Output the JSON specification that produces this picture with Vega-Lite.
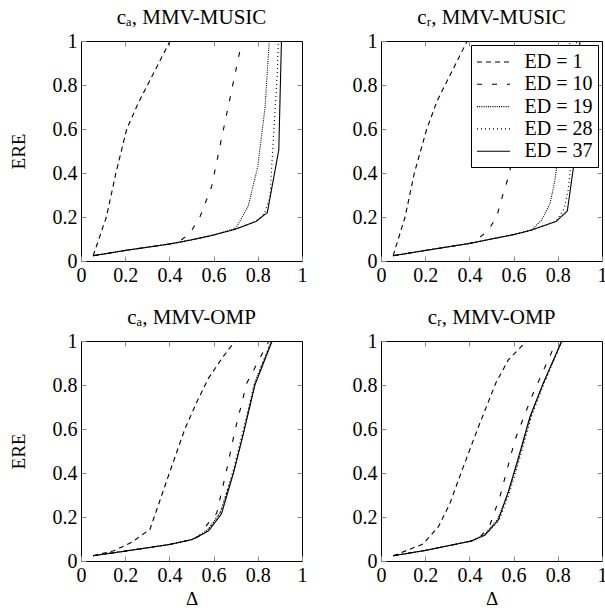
{
  "$schema": "https://vega.github.io/schema/vega-lite/v6.json",
  "padding": {"left": 8, "top": 6, "right": 0, "bottom": 0},
  "background": "white",
  "config": {
    "view": {"stroke": "black", "strokeWidth": 1},
    "axis": {"tickSize": -5, "labelPadding": 9, "domain": false, "grid": false, "ticks": true, "tickColor": "#888", "tickWidth": 1,
             "labelFont": "Liberation Serif", "labelFontSize": 20, "labelColor": "black", "labelFlush": false, "labelOverlap": false,
             "titleFont": "Liberation Serif", "titleFontSize": 19, "titleFontWeight": "normal", "titleColor": "black"},
    "title": {"font": "Liberation Serif", "fontSize": 21, "fontWeight": "normal", "color": "black", "offset": 3, "baseline": "alphabetic", "anchor": "middle"}
  },
  "data": {"values": [
    {"p":"A","ed":"ED = 1","x":0.055,"y":0.024},{"p":"A","ed":"ED = 1","x":0.115,"y":0.2},{"p":"A","ed":"ED = 1","x":0.158,"y":0.4},{"p":"A","ed":"ED = 1","x":0.207,"y":0.6},{"p":"A","ed":"ED = 1","x":0.26,"y":0.72},{"p":"A","ed":"ED = 1","x":0.403,"y":1.0},
    {"p":"A","ed":"ED = 10","x":0.055,"y":0.024},{"p":"A","ed":"ED = 10","x":0.2,"y":0.048},{"p":"A","ed":"ED = 10","x":0.4,"y":0.077},{"p":"A","ed":"ED = 10","x":0.44,"y":0.085},{"p":"A","ed":"ED = 10","x":0.493,"y":0.126},{"p":"A","ed":"ED = 10","x":0.538,"y":0.2},{"p":"A","ed":"ED = 10","x":0.591,"y":0.338},{"p":"A","ed":"ED = 10","x":0.636,"y":0.557},{"p":"A","ed":"ED = 10","x":0.682,"y":0.777},{"p":"A","ed":"ED = 10","x":0.72,"y":0.96},
    {"p":"A","ed":"ED = 19","x":0.055,"y":0.024},{"p":"A","ed":"ED = 19","x":0.2,"y":0.048},{"p":"A","ed":"ED = 19","x":0.4,"y":0.077},{"p":"A","ed":"ED = 19","x":0.5,"y":0.096},{"p":"A","ed":"ED = 19","x":0.6,"y":0.118},{"p":"A","ed":"ED = 19","x":0.7,"y":0.148},{"p":"A","ed":"ED = 19","x":0.757,"y":0.25},{"p":"A","ed":"ED = 19","x":0.8,"y":0.43},{"p":"A","ed":"ED = 19","x":0.833,"y":0.7},{"p":"A","ed":"ED = 19","x":0.852,"y":1.0},
    {"p":"A","ed":"ED = 28","x":0.055,"y":0.024},{"p":"A","ed":"ED = 28","x":0.2,"y":0.048},{"p":"A","ed":"ED = 28","x":0.4,"y":0.077},{"p":"A","ed":"ED = 28","x":0.5,"y":0.096},{"p":"A","ed":"ED = 28","x":0.6,"y":0.118},{"p":"A","ed":"ED = 28","x":0.7,"y":0.145},{"p":"A","ed":"ED = 28","x":0.79,"y":0.18},{"p":"A","ed":"ED = 28","x":0.83,"y":0.215},{"p":"A","ed":"ED = 28","x":0.855,"y":0.29},{"p":"A","ed":"ED = 28","x":0.87,"y":0.55},{"p":"A","ed":"ED = 28","x":0.888,"y":0.85},{"p":"A","ed":"ED = 28","x":0.893,"y":1.0},
    {"p":"A","ed":"ED = 37","x":0.055,"y":0.024},{"p":"A","ed":"ED = 37","x":0.2,"y":0.048},{"p":"A","ed":"ED = 37","x":0.4,"y":0.077},{"p":"A","ed":"ED = 37","x":0.5,"y":0.096},{"p":"A","ed":"ED = 37","x":0.6,"y":0.118},{"p":"A","ed":"ED = 37","x":0.7,"y":0.145},{"p":"A","ed":"ED = 37","x":0.792,"y":0.18},{"p":"A","ed":"ED = 37","x":0.843,"y":0.22},{"p":"A","ed":"ED = 37","x":0.895,"y":0.505},{"p":"A","ed":"ED = 37","x":0.907,"y":1.0},

    {"p":"B","ed":"ED = 1","x":0.055,"y":0.024},{"p":"B","ed":"ED = 1","x":0.109,"y":0.2},{"p":"B","ed":"ED = 1","x":0.151,"y":0.4},{"p":"B","ed":"ED = 1","x":0.207,"y":0.6},{"p":"B","ed":"ED = 1","x":0.255,"y":0.73},{"p":"B","ed":"ED = 1","x":0.39,"y":1.0},
    {"p":"B","ed":"ED = 10","x":0.055,"y":0.024},{"p":"B","ed":"ED = 10","x":0.2,"y":0.048},{"p":"B","ed":"ED = 10","x":0.4,"y":0.08},{"p":"B","ed":"ED = 10","x":0.425,"y":0.088},{"p":"B","ed":"ED = 10","x":0.486,"y":0.141},{"p":"B","ed":"ED = 10","x":0.523,"y":0.2},{"p":"B","ed":"ED = 10","x":0.553,"y":0.307},{"p":"B","ed":"ED = 10","x":0.576,"y":0.38},{"p":"B","ed":"ED = 10","x":0.62,"y":0.58},{"p":"B","ed":"ED = 10","x":0.66,"y":0.78},{"p":"B","ed":"ED = 10","x":0.7,"y":0.96},
    {"p":"B","ed":"ED = 19","x":0.055,"y":0.024},{"p":"B","ed":"ED = 19","x":0.2,"y":0.048},{"p":"B","ed":"ED = 19","x":0.4,"y":0.08},{"p":"B","ed":"ED = 19","x":0.5,"y":0.1},{"p":"B","ed":"ED = 19","x":0.6,"y":0.12},{"p":"B","ed":"ED = 19","x":0.682,"y":0.141},{"p":"B","ed":"ED = 19","x":0.727,"y":0.186},{"p":"B","ed":"ED = 19","x":0.765,"y":0.262},{"p":"B","ed":"ED = 19","x":0.787,"y":0.368},{"p":"B","ed":"ED = 19","x":0.81,"y":0.55},{"p":"B","ed":"ED = 19","x":0.835,"y":0.8},{"p":"B","ed":"ED = 19","x":0.855,"y":1.0},
    {"p":"B","ed":"ED = 28","x":0.055,"y":0.024},{"p":"B","ed":"ED = 28","x":0.2,"y":0.048},{"p":"B","ed":"ED = 28","x":0.4,"y":0.08},{"p":"B","ed":"ED = 28","x":0.5,"y":0.1},{"p":"B","ed":"ED = 28","x":0.6,"y":0.12},{"p":"B","ed":"ED = 28","x":0.682,"y":0.141},{"p":"B","ed":"ED = 28","x":0.792,"y":0.18},{"p":"B","ed":"ED = 28","x":0.83,"y":0.24},{"p":"B","ed":"ED = 28","x":0.848,"y":0.33},{"p":"B","ed":"ED = 28","x":0.857,"y":0.42},{"p":"B","ed":"ED = 28","x":0.87,"y":0.6},{"p":"B","ed":"ED = 28","x":0.885,"y":1.0},
    {"p":"B","ed":"ED = 37","x":0.055,"y":0.024},{"p":"B","ed":"ED = 37","x":0.2,"y":0.048},{"p":"B","ed":"ED = 37","x":0.403,"y":0.08},{"p":"B","ed":"ED = 37","x":0.5,"y":0.1},{"p":"B","ed":"ED = 37","x":0.6,"y":0.12},{"p":"B","ed":"ED = 37","x":0.682,"y":0.141},{"p":"B","ed":"ED = 37","x":0.792,"y":0.18},{"p":"B","ed":"ED = 37","x":0.843,"y":0.227},{"p":"B","ed":"ED = 37","x":0.87,"y":0.42},{"p":"B","ed":"ED = 37","x":0.88,"y":0.6},{"p":"B","ed":"ED = 37","x":0.9,"y":1.0},

    {"p":"C","ed":"ED = 1","x":0.055,"y":0.024},{"p":"C","ed":"ED = 1","x":0.15,"y":0.047},{"p":"C","ed":"ED = 1","x":0.23,"y":0.085},{"p":"C","ed":"ED = 1","x":0.312,"y":0.144},{"p":"C","ed":"ED = 1","x":0.4,"y":0.4},{"p":"C","ed":"ED = 1","x":0.47,"y":0.6},{"p":"C","ed":"ED = 1","x":0.523,"y":0.72},{"p":"C","ed":"ED = 1","x":0.576,"y":0.83},{"p":"C","ed":"ED = 1","x":0.644,"y":0.93},{"p":"C","ed":"ED = 1","x":0.697,"y":1.0},
    {"p":"C","ed":"ED = 10","x":0.055,"y":0.024},{"p":"C","ed":"ED = 10","x":0.2,"y":0.045},{"p":"C","ed":"ED = 10","x":0.4,"y":0.075},{"p":"C","ed":"ED = 10","x":0.5,"y":0.097},{"p":"C","ed":"ED = 10","x":0.535,"y":0.115},{"p":"C","ed":"ED = 10","x":0.57,"y":0.164},{"p":"C","ed":"ED = 10","x":0.614,"y":0.217},{"p":"C","ed":"ED = 10","x":0.659,"y":0.414},{"p":"C","ed":"ED = 10","x":0.697,"y":0.595},{"p":"C","ed":"ED = 10","x":0.75,"y":0.808},{"p":"C","ed":"ED = 10","x":0.833,"y":0.967},{"p":"C","ed":"ED = 10","x":0.85,"y":1.0},
    {"p":"C","ed":"ED = 19","x":0.055,"y":0.024},{"p":"C","ed":"ED = 19","x":0.2,"y":0.045},{"p":"C","ed":"ED = 19","x":0.4,"y":0.075},{"p":"C","ed":"ED = 19","x":0.5,"y":0.097},{"p":"C","ed":"ED = 19","x":0.525,"y":0.109},{"p":"C","ed":"ED = 19","x":0.573,"y":0.142},{"p":"C","ed":"ED = 19","x":0.63,"y":0.22},{"p":"C","ed":"ED = 19","x":0.692,"y":0.41},{"p":"C","ed":"ED = 19","x":0.737,"y":0.59},{"p":"C","ed":"ED = 19","x":0.787,"y":0.81},{"p":"C","ed":"ED = 19","x":0.862,"y":1.0},
    {"p":"C","ed":"ED = 28","x":0.055,"y":0.024},{"p":"C","ed":"ED = 28","x":0.2,"y":0.045},{"p":"C","ed":"ED = 28","x":0.4,"y":0.075},{"p":"C","ed":"ED = 28","x":0.5,"y":0.097},{"p":"C","ed":"ED = 28","x":0.525,"y":0.108},{"p":"C","ed":"ED = 28","x":0.575,"y":0.14},{"p":"C","ed":"ED = 28","x":0.632,"y":0.22},{"p":"C","ed":"ED = 28","x":0.688,"y":0.41},{"p":"C","ed":"ED = 28","x":0.733,"y":0.59},{"p":"C","ed":"ED = 28","x":0.785,"y":0.81},{"p":"C","ed":"ED = 28","x":0.862,"y":1.0},
    {"p":"C","ed":"ED = 37","x":0.055,"y":0.024},{"p":"C","ed":"ED = 37","x":0.2,"y":0.045},{"p":"C","ed":"ED = 37","x":0.4,"y":0.075},{"p":"C","ed":"ED = 37","x":0.5,"y":0.097},{"p":"C","ed":"ED = 37","x":0.525,"y":0.108},{"p":"C","ed":"ED = 37","x":0.578,"y":0.138},{"p":"C","ed":"ED = 37","x":0.636,"y":0.215},{"p":"C","ed":"ED = 37","x":0.69,"y":0.4},{"p":"C","ed":"ED = 37","x":0.735,"y":0.58},{"p":"C","ed":"ED = 37","x":0.787,"y":0.8},{"p":"C","ed":"ED = 37","x":0.865,"y":1.0},

    {"p":"D","ed":"ED = 1","x":0.055,"y":0.024},{"p":"D","ed":"ED = 1","x":0.19,"y":0.077},{"p":"D","ed":"ED = 1","x":0.26,"y":0.156},{"p":"D","ed":"ED = 1","x":0.312,"y":0.262},{"p":"D","ed":"ED = 1","x":0.362,"y":0.4},{"p":"D","ed":"ED = 1","x":0.437,"y":0.6},{"p":"D","ed":"ED = 1","x":0.52,"y":0.81},{"p":"D","ed":"ED = 1","x":0.576,"y":0.914},{"p":"D","ed":"ED = 1","x":0.659,"y":1.0},
    {"p":"D","ed":"ED = 10","x":0.055,"y":0.024},{"p":"D","ed":"ED = 10","x":0.2,"y":0.048},{"p":"D","ed":"ED = 10","x":0.4,"y":0.089},{"p":"D","ed":"ED = 10","x":0.45,"y":0.11},{"p":"D","ed":"ED = 10","x":0.493,"y":0.164},{"p":"D","ed":"ED = 10","x":0.538,"y":0.292},{"p":"D","ed":"ED = 10","x":0.606,"y":0.55},{"p":"D","ed":"ED = 10","x":0.682,"y":0.747},{"p":"D","ed":"ED = 10","x":0.78,"y":0.967},{"p":"D","ed":"ED = 10","x":0.797,"y":1.0},
    {"p":"D","ed":"ED = 19","x":0.055,"y":0.024},{"p":"D","ed":"ED = 19","x":0.2,"y":0.048},{"p":"D","ed":"ED = 19","x":0.41,"y":0.091},{"p":"D","ed":"ED = 19","x":0.468,"y":0.12},{"p":"D","ed":"ED = 19","x":0.528,"y":0.19},{"p":"D","ed":"ED = 19","x":0.58,"y":0.32},{"p":"D","ed":"ED = 19","x":0.625,"y":0.47},{"p":"D","ed":"ED = 19","x":0.678,"y":0.66},{"p":"D","ed":"ED = 19","x":0.736,"y":0.81},{"p":"D","ed":"ED = 19","x":0.818,"y":1.0},
    {"p":"D","ed":"ED = 28","x":0.055,"y":0.024},{"p":"D","ed":"ED = 28","x":0.2,"y":0.048},{"p":"D","ed":"ED = 28","x":0.41,"y":0.091},{"p":"D","ed":"ED = 28","x":0.471,"y":0.118},{"p":"D","ed":"ED = 28","x":0.535,"y":0.186},{"p":"D","ed":"ED = 28","x":0.583,"y":0.315},{"p":"D","ed":"ED = 28","x":0.628,"y":0.467},{"p":"D","ed":"ED = 28","x":0.68,"y":0.656},{"p":"D","ed":"ED = 28","x":0.738,"y":0.808},{"p":"D","ed":"ED = 28","x":0.82,"y":1.0},
    {"p":"D","ed":"ED = 37","x":0.055,"y":0.024},{"p":"D","ed":"ED = 37","x":0.2,"y":0.048},{"p":"D","ed":"ED = 37","x":0.41,"y":0.091},{"p":"D","ed":"ED = 37","x":0.471,"y":0.118},{"p":"D","ed":"ED = 37","x":0.531,"y":0.186},{"p":"D","ed":"ED = 37","x":0.576,"y":0.315},{"p":"D","ed":"ED = 37","x":0.621,"y":0.467},{"p":"D","ed":"ED = 37","x":0.674,"y":0.656},{"p":"D","ed":"ED = 37","x":0.734,"y":0.808},{"p":"D","ed":"ED = 37","x":0.818,"y":1.0}
  ]},
  "columns": 2,
  "bounds": "flush",
  "spacing": {"row": 80, "column": 79},
  "resolve": {"scale": {"strokeDash": "independent"}, "legend": {"strokeDash": "independent"}},
  "concat": [
    {
      "title": "cₐ, MMV-MUSIC",
      "width": 221, "height": 220,
      "transform": [{"filter": "datum.p == 'A'"}],
      "layer": [
        {"mark": {"type": "line", "clip": true, "strokeWidth": 1.1, "color": "black"},
         "encoding": {
           "x": {"field": "x", "type": "quantitative", "scale": {"domain": [0, 1], "nice": false}, "axis": {"orient": "bottom", "values": [0, 0.2, 0.4, 0.6, 0.8, 1], "format": "~g", "title": null}},
           "y": {"field": "y", "type": "quantitative", "scale": {"domain": [0, 1], "nice": false}, "axis": {"orient": "left", "values": [0, 0.2, 0.4, 0.6, 0.8, 1], "format": "~g", "title": "ERE", "titlePadding": 24}},
           "strokeDash": {"field": "ed", "type": "nominal", "scale": {"domain": ["ED = 1", "ED = 10", "ED = 19", "ED = 28", "ED = 37"], "range": [[5, 4], [5, 10], [1, 1.2], [1, 3], [1, 0]]}, "legend": null}
         }},
        {"mark": {"type": "point", "opacity": 0},
         "encoding": {
           "x": {"field": "x", "type": "quantitative", "axis": {"orient": "top", "values": [0.2, 0.4, 0.6, 0.8], "labels": false, "title": null}},
           "y": {"field": "y", "type": "quantitative", "axis": {"orient": "right", "values": [0.2, 0.4, 0.6, 0.8], "labels": false, "title": null}}
         }}
      ],
      "resolve": {"axis": {"x": "independent", "y": "independent"}}
    },
    {
      "title": "cᵣ, MMV-MUSIC",
      "width": 221, "height": 220,
      "transform": [{"filter": "datum.p == 'B'"}],
      "layer": [
        {"mark": {"type": "line", "clip": true, "strokeWidth": 1.1, "color": "black"},
         "encoding": {
           "x": {"field": "x", "type": "quantitative", "scale": {"domain": [0, 1], "nice": false}, "axis": {"orient": "bottom", "values": [0, 0.2, 0.4, 0.6, 0.8, 1], "format": "~g", "title": null}},
           "y": {"field": "y", "type": "quantitative", "scale": {"domain": [0, 1], "nice": false}, "axis": {"orient": "left", "values": [0, 0.2, 0.4, 0.6, 0.8, 1], "format": "~g", "title": null}},
           "strokeDash": {"field": "ed", "type": "nominal", "scale": {"domain": ["ED = 1", "ED = 10", "ED = 19", "ED = 28", "ED = 37"], "range": [[5, 4], [5, 10], [1, 1.2], [1, 3], [1, 0]]},
             "legend": {"title": null, "orient": "top-right", "offset": 4, "padding": 5, "strokeColor": "black", "fillColor": "white",
               "symbolType": "M-1.5,0L1.5,0", "symbolSize": 484, "symbolOffset": 5.5, "symbolStrokeWidth": 1.1, "symbolStrokeColor": "black", "symbolFillColor": "transparent",
               "labelFont": "Liberation Serif", "labelFontSize": 20, "labelColor": "black", "labelOffset": 19, "rowPadding": 0.3, "labelLimit": 200}}
         }},
        {"mark": {"type": "point", "opacity": 0},
         "encoding": {
           "x": {"field": "x", "type": "quantitative", "axis": {"orient": "top", "values": [0.2, 0.4, 0.6, 0.8], "labels": false, "title": null}},
           "y": {"field": "y", "type": "quantitative", "axis": {"orient": "right", "values": [0.2, 0.4, 0.6, 0.8], "labels": false, "title": null}}
         }}
      ],
      "resolve": {"axis": {"x": "independent", "y": "independent"}}
    },
    {
      "title": "cₐ, MMV-OMP",
      "width": 221, "height": 220,
      "transform": [{"filter": "datum.p == 'C'"}],
      "layer": [
        {"mark": {"type": "line", "clip": true, "strokeWidth": 1.1, "color": "black"},
         "encoding": {
           "x": {"field": "x", "type": "quantitative", "scale": {"domain": [0, 1], "nice": false}, "axis": {"orient": "bottom", "values": [0, 0.2, 0.4, 0.6, 0.8, 1], "format": "~g", "title": "Δ", "titlePadding": 4}},
           "y": {"field": "y", "type": "quantitative", "scale": {"domain": [0, 1], "nice": false}, "axis": {"orient": "left", "values": [0, 0.2, 0.4, 0.6, 0.8, 1], "format": "~g", "title": "ERE", "titlePadding": 24}},
           "strokeDash": {"field": "ed", "type": "nominal", "scale": {"domain": ["ED = 1", "ED = 10", "ED = 19", "ED = 28", "ED = 37"], "range": [[5, 4], [5, 10], [1, 1.2], [1, 3], [1, 0]]}, "legend": null}
         }},
        {"mark": {"type": "point", "opacity": 0},
         "encoding": {
           "x": {"field": "x", "type": "quantitative", "axis": {"orient": "top", "values": [0.2, 0.4, 0.6, 0.8], "labels": false, "title": null}},
           "y": {"field": "y", "type": "quantitative", "axis": {"orient": "right", "values": [0.2, 0.4, 0.6, 0.8], "labels": false, "title": null}}
         }}
      ],
      "resolve": {"axis": {"x": "independent", "y": "independent"}}
    },
    {
      "title": "cᵣ, MMV-OMP",
      "width": 221, "height": 220,
      "transform": [{"filter": "datum.p == 'D'"}],
      "layer": [
        {"mark": {"type": "line", "clip": true, "strokeWidth": 1.1, "color": "black"},
         "encoding": {
           "x": {"field": "x", "type": "quantitative", "scale": {"domain": [0, 1], "nice": false}, "axis": {"orient": "bottom", "values": [0, 0.2, 0.4, 0.6, 0.8, 1], "format": "~g", "title": "Δ", "titlePadding": 4}},
           "y": {"field": "y", "type": "quantitative", "scale": {"domain": [0, 1], "nice": false}, "axis": {"orient": "left", "values": [0, 0.2, 0.4, 0.6, 0.8, 1], "format": "~g", "title": null}},
           "strokeDash": {"field": "ed", "type": "nominal", "scale": {"domain": ["ED = 1", "ED = 10", "ED = 19", "ED = 28", "ED = 37"], "range": [[5, 4], [5, 10], [1, 1.2], [1, 3], [1, 0]]}, "legend": null}
         }},
        {"mark": {"type": "point", "opacity": 0},
         "encoding": {
           "x": {"field": "x", "type": "quantitative", "axis": {"orient": "top", "values": [0.2, 0.4, 0.6, 0.8], "labels": false, "title": null}},
           "y": {"field": "y", "type": "quantitative", "axis": {"orient": "right", "values": [0.2, 0.4, 0.6, 0.8], "labels": false, "title": null}}
         }}
      ],
      "resolve": {"axis": {"x": "independent", "y": "independent"}}
    }
  ]
}
